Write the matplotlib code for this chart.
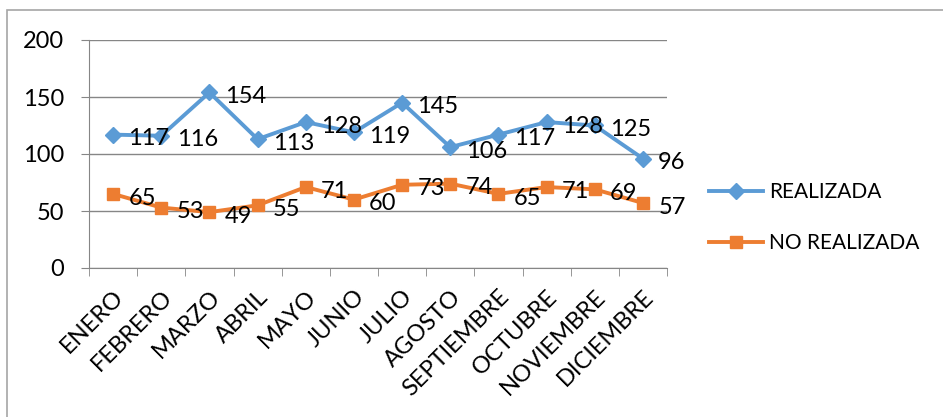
import matplotlib.pyplot as plt
from matplotlib.patches import Rectangle

meses = ['ENERO', 'FEBRERO', 'MARZO', 'ABRIL', 'MAYO', 'JUNIO', 'JULIO',
         'AGOSTO', 'SEPTIEMBRE', 'OCTUBRE', 'NOVIEMBRE', 'DICIEMBRE']
realizada = [117, 116, 154, 113, 128, 119, 145, 106, 117, 128, 125, 96]
no_realizada = [65, 53, 49, 55, 71, 60, 73, 74, 65, 71, 69, 57]

plt.rcParams['font.family'] = ['Lato', 'DejaVu Sans']

fig = plt.figure(figsize=(9.43, 4.17), dpi=100)
ax = fig.add_axes([89 / 943, 1 - 268 / 417, 578 / 943, 228 / 417])

x = list(range(len(meses)))
azul = '#5b9bd5'
naranja = '#ed7d31'
ax.plot(x, realizada, color=azul, lw=2.8, marker='D', ms=8, label='REALIZADA', zorder=3)
ax.plot(x, no_realizada, color=naranja, lw=2.8, marker='s', ms=9, label='NO REALIZADA', zorder=3)

# etiquetas de datos a la derecha de cada punto
for serie in [realizada, no_realizada]:
    for xi, v in zip(x, serie):
        ax.annotate(str(v), (xi, v), xytext=(11, -3), textcoords='offset points',
                    ha='left', va='center', fontsize=17)

ax.set_xlim(-0.5, len(meses) - 0.5)
ax.set_ylim(0, 200)
ax.set_yticks([0, 50, 100, 150, 200])
ax.set_xticks(x)
ax.set_xticklabels(meses, rotation=45, ha='right', rotation_mode='anchor', fontsize=17)
ax.set_xticks([i - 0.5 for i in range(len(meses) + 1)], minor=True)
ax.tick_params(axis='x', which='major', length=0, pad=13)
ax.tick_params(axis='x', which='minor', length=6, color='#868686')
ax.tick_params(axis='y', length=6, color='#868686', labelsize=17, pad=12)
ax.grid(axis='y', color='#868686', lw=1)
ax.set_axisbelow(True)
for lado in ['top', 'right']:
    ax.spines[lado].set_visible(False)
ax.spines['left'].set_color('#868686')
ax.spines['bottom'].set_color('#868686')

ax.legend(loc='center left', bbox_to_anchor=(1.04, 0.22), frameon=False,
          fontsize=15, handlelength=2.6, labelspacing=1.5, handletextpad=0.3)

fig.patches.append(Rectangle((7 / 943, -0.1), 1.1, 1.1 - 10 / 417,
                             transform=fig.transFigure, fill=False,
                             edgecolor='#a6a6a6', lw=1.2))

fig.savefig('out.png', dpi=100)
